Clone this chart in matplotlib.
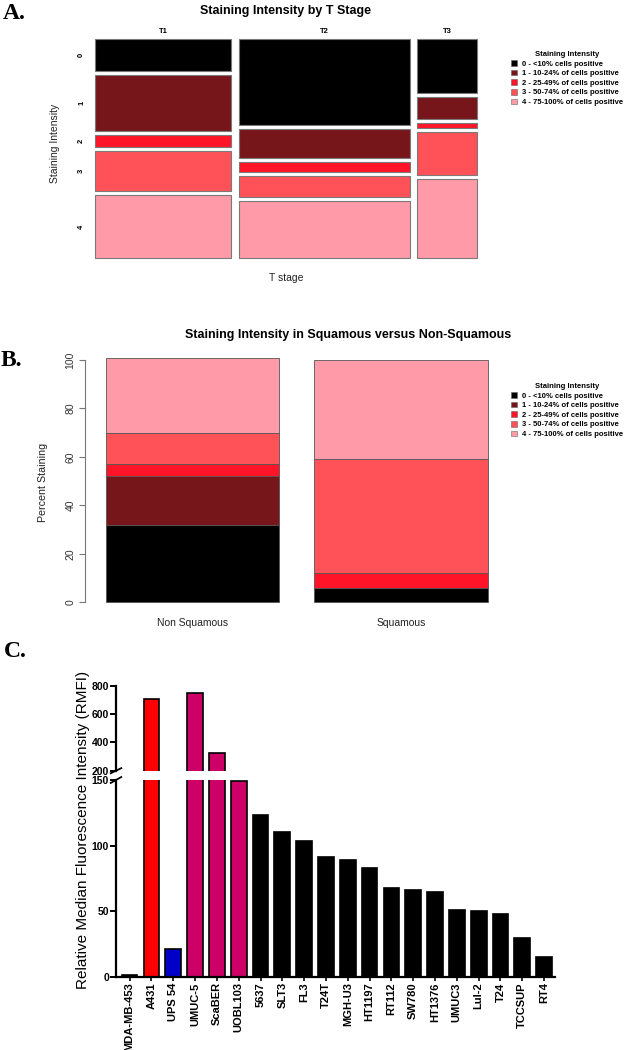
import numpy as np
import matplotlib
matplotlib.use("Agg")
import matplotlib.pyplot as plt
from matplotlib.patches import Patch

plt.rcParams["font.family"] = ["Liberation Sans", "DejaVu Sans"]

# ── Data ──────────────────────────────────────────────────────────────────────
intensity_levels = ["0", "1", "2", "3", "4"]
legend_labels = [
    "0 - <10% cells positive",
    "1 - 10-24% of cells positive",
    "2 - 25-49% of cells positive",
    "3 - 50-74% of cells positive",
    "4 - 75-100% of cells positive",
]
level_colors = ["#000000", "#76161A", "#FF1428", "#FF5158", "#FF9BA8"]

# panel A: share of cases per T stage and % per intensity level within stage
t_stages = ["T1", "T2", "T3"]
t_share = [37.1, 46.5, 16.4]
t_intensity = {
    "T1": [15.5, 27.8, 5.8, 19.8, 31.1],
    "T2": [42.5, 13.9, 4.9, 10.3, 28.4],
    "T3": [26.6, 10.6, 2.6, 20.9, 39.3],
}

# panel B: percent staining per histology
histology = ["Non Squamous", "Squamous"]
histo_pct = {
    "Non Squamous": [32, 20, 5, 13, 31],
    "Squamous":     [6, 0, 6, 47, 41],
}

# panel C: RMFI per cell line
cell_lines = ["MDA-MB-453", "A431", "UPS 54", "UMUC-5", "ScaBER", "UOBL103",
              "5637", "SLT3", "FL3", "T24T", "MGH-U3", "HT1197", "RT112",
              "SW780", "HT1376", "UMUC3", "Lul-2", "T24", "TCCSUP", "RT4"]
rmfi = [1.3, 705, 21, 748, 326, 149, 123, 110, 103.5, 91.5, 89.3, 82.7,
        67.4, 66.4, 64.6, 50.6, 49.9, 47.6, 29.3, 15]
group = ["neg", "pos", "blue", "sq", "sq", "sq"] + ["uc"] * 14
group_colors = {"neg": "#000000", "pos": "#FF0000", "blue": "#0000C8",
                "sq": "#CC0066", "uc": "#000000"}

# ── Figure helpers ────────────────────────────────────────────────────────────
W, H = 625, 1050
fig = plt.figure(figsize=(W / 100, H / 100), dpi=100, facecolor="white")


def px_axes(left, top, right, bottom):
    return fig.add_axes([left / W, 1 - bottom / H,
                         (right - left) / W, (bottom - top) / H])


def fx(x):
    return x / W


def fy(y):
    return 1 - y / H


def add_legend(x_left, y_top):
    handles = [Patch(facecolor=c, edgecolor="#666666", linewidth=0.4)
               for c in level_colors]
    fig.legend(handles, legend_labels, loc="upper left",
               bbox_to_anchor=(fx(x_left), fy(y_top)), frameon=False,
               title="Staining Intensity",
               prop={"size": 5.5, "weight": "bold"},
               title_fontproperties={"size": 5.5, "weight": "bold"},
               handlelength=0.75, handleheight=0.75, handletextpad=0.7,
               labelspacing=0.28, borderpad=0, borderaxespad=0)


# ── Panel A: mosaic ───────────────────────────────────────────────────────────
gx, gy = 0.0196, 0.0208
axA = px_axes(94.8, 39.3, 477.2, 258.3)
shares = np.array(t_share) / sum(t_share)
x_left = np.concatenate([[0], np.cumsum(shares)[:-1]]) + gx * np.arange(len(shares))
first_centers = None
for i, st in enumerate(t_stages):
    props = np.array(t_intensity[st]) / sum(t_intensity[st])
    tops = np.concatenate([[0], np.cumsum(props)[:-1]]) + gy * np.arange(len(props))
    axA.bar(np.full(len(props), x_left[i]), props, width=shares[i], bottom=tops,
            align="edge", color=level_colors, edgecolor="#7a7a7a", linewidth=0.8,
            clip_on=False)
    if i == 0:
        first_centers = tops + props / 2
axA.set_xlim(0, 1 + 2 * gx)
axA.set_ylim(1 + 4 * gy, 0)
for s in axA.spines.values():
    s.set_visible(False)
axA.set_yticks(first_centers)
axA.set_yticklabels(intensity_levels, rotation=90, fontsize=5.5, fontweight="bold",
                    va="center")
axA.set_xticks(x_left + shares / 2)
axA.set_xticklabels(t_stages, fontsize=5.5, fontweight="bold")
axA.xaxis.tick_top()
axA.tick_params(axis="both", length=0)
axA.tick_params(axis="y", pad=7)
axA.tick_params(axis="x", pad=3)

fig.text(fx(286), fy(11), "Staining Intensity by T Stage", ha="center",
         va="center", fontsize=9, fontweight="bold")
fig.text(fx(55), fy(143), "Staining Intensity", rotation=90, ha="center",
         va="center", fontsize=7.5, color="#222222")
fig.text(fx(286), fy(278), "T stage", ha="center", va="center", fontsize=7.5,
         color="#222222")
add_legend(511, 51)

# ── Panel B: stacked percent bars ─────────────────────────────────────────────
axB = px_axes(85, 350, 500, 612)
xb = np.array([0.7, 1.9])
bottoms = np.zeros(len(histology))
for lvl in range(len(intensity_levels)):
    vals = np.array([histo_pct[h][lvl] for h in histology])
    axB.bar(xb, vals, width=1.0, bottom=bottoms, color=level_colors[lvl],
            edgecolor="#555555", linewidth=0.6)
    bottoms += vals
axB.set_xlim(0.079, 2.471)
axB.set_ylim(-4, 104.1)
for name in ["top", "right", "bottom"]:
    axB.spines[name].set_visible(False)
axB.spines["left"].set_bounds(0, 100)
axB.spines["left"].set_color("#777777")
axB.spines["left"].set_linewidth(0.8)
axB.set_yticks([0, 20, 40, 60, 80, 100])
axB.set_yticklabels(["0", "20", "40", "60", "80", "100"], rotation=90,
                    va="center", fontsize=7.5, color="#333333")
axB.tick_params(axis="y", length=4, width=0.8, color="#777777", pad=3)
axB.set_xticks(xb)
axB.set_xticklabels(histology, fontsize=7.5, color="#222222")
axB.tick_params(axis="x", length=0, pad=4)

fig.text(fx(348), fy(335), "Staining Intensity in Squamous versus Non-Squamous",
         ha="center", va="center", fontsize=9, fontweight="bold")
fig.text(fx(43), fy(482), "Percent Staining", rotation=90, ha="center",
         va="center", fontsize=7.7, color="#222222")
add_legend(511, 383)

# ── Panel C: broken-axis bar chart ────────────────────────────────────────────
xc = np.arange(len(cell_lines))
bar_cols = [group_colors[g] for g in group]
axC_top = px_axes(116, 685.7, 555, 770.7)
axC = px_axes(116, 780, 555, 976.7)
for ax in (axC_top, axC):
    ax.bar(xc, rmfi, width=0.72, color=bar_cols, edgecolor="black",
           linewidth=1.2)
    ax.set_xlim(-0.624, 19.5)
    ax.spines["top"].set_visible(False)
    ax.spines["right"].set_visible(False)
    ax.spines["left"].set_linewidth(1.6)
    ax.tick_params(axis="y", length=4, width=1.4, pad=1, labelsize=7.5)

axC_top.set_ylim(200, 800)
axC_top.set_yticks([200, 400, 600, 800])
axC_top.set_yticklabels(["200", "400", "600", "800"], fontweight="bold")
axC_top.spines["bottom"].set_visible(False)
axC_top.set_xticks([])

axC.set_ylim(0, 150)
axC.set_yticks([0, 50, 100, 150])
axC.set_yticklabels(["0", "50", "100", "150"], fontweight="bold")
axC.spines["bottom"].set_linewidth(1.6)
axC.set_xticks(xc)
axC.set_xticklabels(cell_lines, rotation=90, fontsize=8, fontweight="bold")
axC.tick_params(axis="x", length=3, width=1.2, pad=1)

# break marks on the y axis
kw = dict(color="black", linewidth=1.3, clip_on=False)
axC_top.plot([-0.012, 0.012], [-0.03, 0.03], transform=axC_top.transAxes, **kw)
axC.plot([-0.012, 0.012], [0.985, 1.0 + 0.015], transform=axC.transAxes, **kw)

fig.text(fx(83), fy(830), "Relative Median Fluorescence Intensity (RMFI)",
         rotation=90, ha="center", va="center", fontsize=11)

# ── Panel letters ─────────────────────────────────────────────────────────────
for letter, x, y in [("A.", 3, 3), ("B.", 1, 350), ("C.", 4, 641)]:
    fig.text(fx(x), fy(y), letter, ha="left", va="top", fontsize=17,
             fontweight="bold", family="Liberation Serif")

fig.savefig("out.png", dpi=100, facecolor="white")
